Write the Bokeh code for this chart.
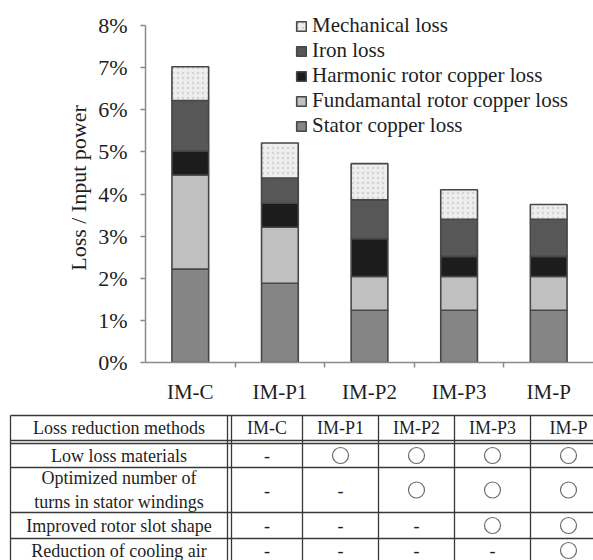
from bokeh.plotting import figure
from bokeh.models import (Range1d, FixedTicker, PrintfTickFormatter, Legend,
                          LegendItem, ColumnDataSource)
from bokeh.layouts import column
from bokeh.embed import file_html
from bokeh.resources import INLINE
from bokeh.core.properties import value

# ---- loss breakdown (% of input power) ----
models = ["IM-C", "IM-P1", "IM-P2", "IM-P3", "IM-P"]
stator_copper = [2.22, 1.88, 1.24, 1.24, 1.24]
fundamental_rotor_copper = [2.23, 1.33, 0.80, 0.80, 0.80]
harmonic_rotor_copper = [0.57, 0.57, 0.90, 0.48, 0.48]
iron = [1.20, 0.60, 0.92, 0.88, 0.88]
mechanical = [0.80, 0.83, 0.86, 0.70, 0.35]
y_ticks = [0, 1, 2, 3, 4, 5, 6, 7, 8]

series_keys = ["stator", "fund", "harm", "iron", "mech"]
series_labels = ["Stator copper loss", "Fundamantal rotor copper loss",
                 "Harmonic rotor copper loss", "Iron loss", "Mechanical loss"]
series_colors = ["#858585", "#c0c0c0", "#1c1c1c", "#575757", "#eeeeee"]

# ---- loss reduction methods table ----
methods = ["Low loss materials", "Optimized number of\nturns in stator windings",
           "Improved rotor slot shape", "Reduction of cooling air"]
applied_im_c = [False, False, False, False]
applied_im_p1 = [True, False, False, False]
applied_im_p2 = [True, True, False, False]
applied_im_p3 = [True, True, True, False]
applied_im_p = [True, True, True, True]

FONT = "Liberation Serif"
TXT = "#1e1e1e"

# ================= stacked bar chart =================
xs = [i + 0.5 for i in range(len(models))]
src = ColumnDataSource(dict(x=xs, stator=stator_copper, fund=fundamental_rotor_copper,
                            harm=harmonic_rotor_copper, iron=iron, mech=mechanical))

# frame reaches a little above 8 % so the legend fits; the axis itself stops at 8 %
y_top = y_ticks[-1] * 349 / 337
p = figure(width=593, height=408, x_range=Range1d(0, len(models)),
           y_range=Range1d(0, y_top), output_backend="svg",
           toolbar_location=None, min_border_left=145, min_border_right=0,
           min_border_top=13, min_border_bottom=46)
p.frame_align = False
p.outline_line_color = None
p.xgrid.visible = False
p.ygrid.visible = False

bars = p.vbar_stack(series_keys, x="x", width=0.41, source=src,
                    fill_color=series_colors, line_color="#474747", line_width=1.6)
mech = bars[-1].glyph
mech.hatch_pattern = "dot"
mech.hatch_color = "#d2d2d2"
mech.hatch_scale = 5
mech.hatch_weight = 1.5

# y axis
ya = p.yaxis[0]
ya.bounds = (y_ticks[0], y_ticks[-1])
ya.ticker = FixedTicker(ticks=y_ticks)
ya.formatter = PrintfTickFormatter(format="%d%%")
ya.axis_label = "Loss / Input power"
ya.axis_label_text_font = FONT
ya.axis_label_text_font_style = "normal"
ya.axis_label_text_font_size = "22px"
ya.axis_label_text_color = TXT
ya.axis_label_standoff = 4
ya.major_label_text_font = FONT
ya.major_label_text_font_size = "22px"
ya.major_label_text_color = TXT
ya.major_label_standoff = 13
ya.major_tick_out = 5
ya.major_tick_in = 0
ya.minor_tick_line_color = None
ya.axis_line_color = "#8a8a8a"
ya.axis_line_width = 1.5
ya.major_tick_line_color = "#8a8a8a"
ya.major_tick_line_width = 1.5

# x axis: labels at bar centres, small ticks between categories
xa = p.xaxis[0]
xa.ticker = FixedTicker(ticks=xs, minor_ticks=[i for i in range(1, len(models))])
xa.major_label_overrides = {x: m for x, m in zip(xs, models)}
xa.major_tick_line_color = None
xa.major_tick_out = 0
xa.major_tick_in = 0
xa.minor_tick_out = 5
xa.minor_tick_in = 0
xa.minor_tick_line_color = "#8a8a8a"
xa.minor_tick_line_width = 1.5
xa.major_label_text_font = FONT
xa.major_label_text_font_size = "21px"
xa.major_label_text_color = TXT
xa.major_label_standoff = 12
xa.axis_line_color = "#8a8a8a"
xa.axis_line_width = 1.5

legend = Legend(items=[LegendItem(label=l, renderers=[r])
                       for l, r in reversed(list(zip(series_labels, bars)))],
                location=(150, 224), orientation="vertical",
                glyph_width=12, glyph_height=12, label_height=24, spacing=0,
                padding=0, margin=0, label_standoff=5,
                border_line_color=None, background_fill_alpha=0,
                label_text_font=FONT, label_text_font_size="21px",
                label_text_color=TXT)
p.add_layout(legend)

# ================= methods table =================
col_w = [217, 4, 71, 76, 76, 76, 76]     # first column, double rule gap, model columns
row_h = [25, 3, 24, 45, 26, 30]          # header, double rule gap, method rows
left, top = 10, 7

x_edges = [left]
for w in col_w:
    x_edges.append(x_edges[-1] + w)
y_edges = [top]
for h in row_h:
    y_edges.append(y_edges[-1] + h)

t = figure(width=593, height=152, x_range=Range1d(0, 593), y_range=Range1d(152, 0),
           output_backend="svg", toolbar_location=None, min_border=0,
           min_border_left=0, min_border_right=0, min_border_top=0, min_border_bottom=0,
           x_axis_location=None, y_axis_location=None)
t.frame_align = False
t.grid.visible = False
t.outline_line_color = None

rule = dict(line_color="#383838", line_width=1.3)
t.segment(x0=[x_edges[0]] * len(y_edges[:-1]), x1=[x_edges[-1]] * len(y_edges[:-1]),
          y0=y_edges[:-1], y1=y_edges[:-1], **rule)
t.segment(x0=x_edges[:-1], x1=x_edges[:-1], y0=[top] * len(x_edges[:-1]),
          y1=[152] * len(x_edges[:-1]), **rule)

text_style = dict(text_font=value(FONT), text_font_size=value("18px"),
                  text_color=TXT, text_align="center", text_baseline="middle")

first_cx = (x_edges[0] + x_edges[1]) / 2
model_cx = [(x_edges[i] + x_edges[i + 1]) / 2 for i in range(2, 2 + len(models))]
header_cy = (y_edges[0] + y_edges[1]) / 2
row_cy = [(y_edges[i] + y_edges[i + 1]) / 2 for i in range(2, 2 + len(methods))]
row_cy[-1] = y_edges[5] + 12

t.text(x=[first_cx] + model_cx, y=[header_cy] * (len(models) + 1),
       text=["Loss reduction methods"] + models, **text_style)
t.text(x=[first_cx] * len(methods), y=row_cy, text=methods,
       text_line_height=1.2, **text_style)

applied = [applied_im_c, applied_im_p1, applied_im_p2, applied_im_p3, applied_im_p]
ox, oy, dx, dy = [], [], [], []
for cx, flags in zip(model_cx, applied):
    for cy, f in zip(row_cy, flags):
        if f:
            ox.append(cx); oy.append(cy)
        else:
            dx.append(cx); dy.append(cy)
t.scatter(x=ox, y=oy, marker="circle", size=16, fill_color=None,
          line_color="#6a6a6a", line_width=1.2)
t.text(x=dx, y=dy, text=["-"] * len(dx), **text_style)

page = column(p, t, spacing=0)
open("out.html", "w").write(file_html(page, INLINE))
